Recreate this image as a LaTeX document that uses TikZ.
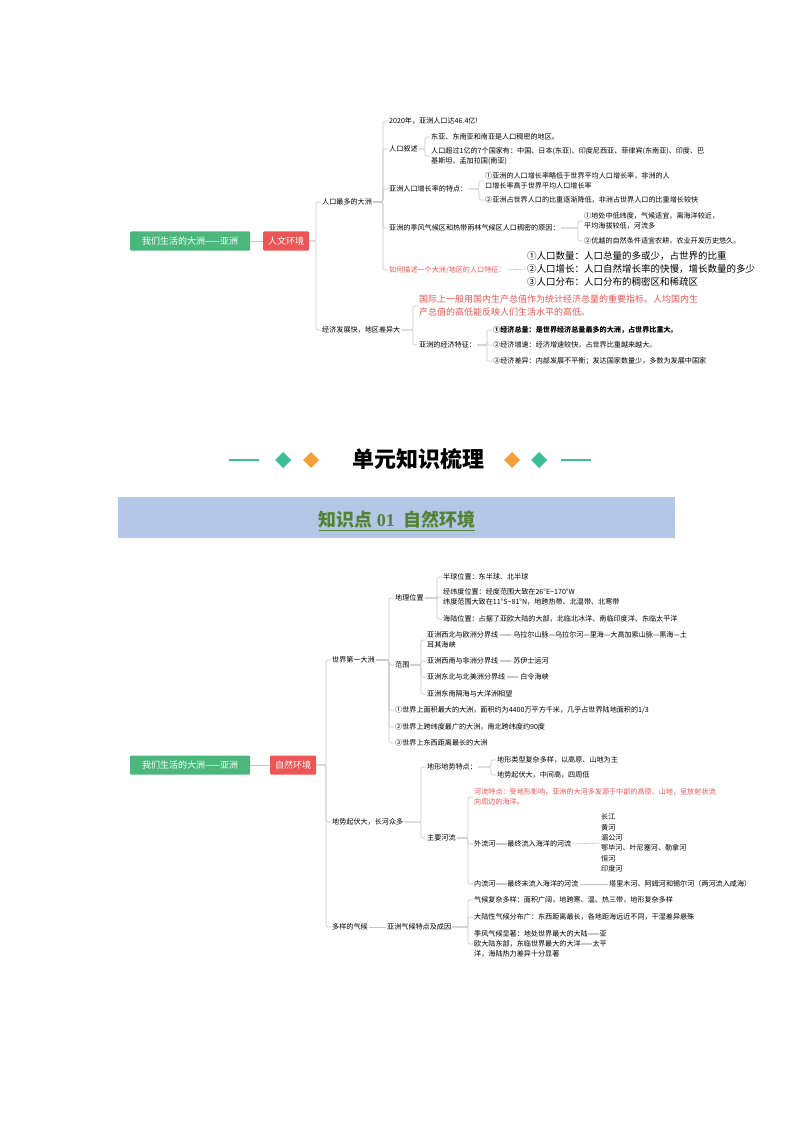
\documentclass[tikz,border=0pt]{standalone}
\usepackage{fontspec}
\setmainfont{Noto Sans CJK SC}
\newfontfamily\hd{Noto Sans CJK SC}
\newfontfamily\sr{Liberation Serif}
\definecolor{rootg}{RGB}{76,183,125}
\definecolor{redbx}{RGB}{236,85,85}
\definecolor{band}{RGB}{180,199,231}
\definecolor{bandt}{RGB}{84,130,53}
\definecolor{dg}{RGB}{62,190,150}
\definecolor{dor}{RGB}{245,160,60}
\begin{document}
\begin{tikzpicture}[x=1pt,y=-1pt,
 t/.style={anchor=west,inner sep=1pt,font=\fontsize{7.1}{10}\selectfont,align=left},
 rd/.style={t,text=redbx},
 big/.style={t,font=\fontsize{9.5}{13}\selectfont},
 root/.style={fill=rootg,text=white,font=\fontsize{9}{11}\selectfont,minimum height=19,minimum width=120,inner xsep=5,rounded corners=1,anchor=west},
 redb/.style={fill=redbx,text=white,font=\fontsize{9}{11}\selectfont,minimum height=19,minimum width=46,inner xsep=3,rounded corners=1,anchor=west},
 ln/.style={draw=gray!45,line width=0.6pt,rounded corners=2}]
\useasboundingbox (0,0) rectangle (794,1123);
\newcommand\lk[2]{\draw[ln] (#1.east) -| ([xshift=-5pt]#2.west) -- (#2.west);}
% ---------- top map
\node[root] (r1) at (130,241) {我们生活的大洲——亚洲};
\node[redb] (h1) at (263,241) {人文环境};
\draw[ln] (r1.east)--(h1.west);
\node[t] (a1) at (321,202) {人口最多的大洲};
\node[t] (a2) at (321,330) {经济发展快，地区差异大};
\lk{h1}{a1}\lk{h1}{a2}
\node[t] (b1) at (388,121) {2020年，亚洲人口达46.4亿!};
\node[t] (b2) at (388,149) {人口叙述};
\node[t] (b3) at (388,189) {亚洲人口增长率的特点：};
\node[t] (b4) at (388,228) {亚洲的季风气候区和热带雨林气候区人口稠密的原因：};
\node[rd] (b5) at (388,270) {如何描述一个大洲/地区的人口特征：};
\foreach \i in {1,...,5}{\lk{a1}{b\i}}
\node[t] (c1) at (430,137) {东亚、东南亚和南亚是人口稠密的地区。};
\node[t] (c2) at (430,156) {人口超过1亿的7个国家有：中国、日本(东亚)、印度尼西亚、菲律宾(东南亚)、印度、巴\\基斯坦、孟加拉国(南亚)};
\lk{b2}{c1}\lk{b2}{c2}
\node[t] (d1) at (484,181) {①亚洲的人口增长率略低于世界平均人口增长率，非洲的人\\口增长率高于世界平均人口增长率};
\node[t] (d2) at (484,200) {②亚洲占世界人口的比重逐渐降低，非洲占世界人口的比重增长较快};
\lk{b3}{d1}\lk{b3}{d2}
\node[t] (e1) at (583,221) {①地处中低纬度，气候适宜，离海洋较近，\\平均海拔较低，河流多};
\node[t] (e2) at (583,241) {②优越的自然条件适宜农耕，农业开发历史悠久。};
\lk{b4}{e1}\lk{b4}{e2}
\node[big,anchor=west] (f1) at (526,269) {①人口数量：人口总量的多或少，占世界的比重\\②人口增长：人口自然增长率的快慢，增长数量的多少\\③人口分布：人口分布的稠密区和稀疏区};
\draw[ln] (b5.east)--(f1.west);
\node[t,font=\fontsize{9}{13}\selectfont,text=redbx] (g1) at (418,306) {国际上一般用国内生产总值作为统计经济总量的重要指标。人均国内生\\产总值的高低能反映人们生活水平的高低。};
\node[t] (g2) at (418,345) {亚洲的经济特征：};
\lk{a2}{g1}\lk{a2}{g2}
\node[t,font=\fontsize{7.1}{10}\selectfont\bfseries] (k1) at (492,330) {①经济总量：是世界经济总量最多的大洲，占世界比重大。};
\node[t] (k2) at (492,345) {②经济增速：经济增速较快，占世界比重越来越大。};
\node[t] (k3) at (492,361) {③经济差异：内部发展不平衡；发达国家数量少，多数为发展中国家};
\lk{g2}{k1}\lk{g2}{k2}\lk{g2}{k3}
% ---------- header
\draw[dg,line width=1.2pt] (229,460)--(259,460) (561,460)--(591,460);
\fill[dg] (283,452)--(291,460)--(283,468)--(275,460)--cycle;
\fill[dor] (311,452)--(319,460)--(311,468)--(303,460)--cycle;
\fill[dor] (512,452)--(520,460)--(512,468)--(504,460)--cycle;
\fill[dg] (539,452)--(547,460)--(539,468)--(531,460)--cycle;
\node[font=\hd\fontsize{22}{24}\selectfont\bfseries] (hd) at (418,459) {单元知识梳理};
\fill[band] (118,497) rectangle (675,538);
\node[font=\hd\fontsize{18}{20}\selectfont\bfseries,text=bandt] (kd) at (397,521) {\underline{知识点 {\sr 01}\ \ 自然环境}};
% ---------- bottom map
\node[root] (r2) at (130,765) {我们生活的大洲——亚洲};
\node[redb] (h2) at (270,765) {自然环境};
\draw[ln] (r2.east)--(h2.west);
\node[t] (m1) at (331,660) {世界第一大洲};
\node[t] (m2) at (331,822) {地势起伏大，长河众多};
\node[t] (m3) at (331,927) {多样的气候};
\lk{h2}{m1}\lk{h2}{m2}\lk{h2}{m3}
\node[t] (n1) at (394,598) {地理位置};
\node[t] (n2) at (394,665) {范围};
\node[t] (n3) at (394,710) {①世界上面积最大的大洲，面积约为4400万平方千米，几乎占世界陆地面积的1/3};
\node[t] (n4) at (394,727) {②世界上跨纬度最广的大洲，南北跨纬度约90度};
\node[t] (n5) at (394,743) {③世界上东西距离最长的大洲};
\foreach \i in {1,...,5}{\lk{m1}{n\i}}
\node[t] (p1) at (442,577) {半球位置：东半球、北半球};
\node[t] (p2) at (442,597) {经纬度位置：经度范围大致在26°E\textasciitilde170°W\\纬度范围大致在11°S\textasciitilde81°N，地跨热带、北温带、北寒带};
\node[t] (p3) at (442,619) {海陆位置：占据了亚欧大陆的大部，北临北冰洋、南临印度洋、东临太平洋};
\lk{n1}{p1}\lk{n1}{p2}\lk{n1}{p3}
\node[t] (q1) at (426,640) {亚洲西北与欧洲分界线 —— 乌拉尔山脉—乌拉尔河—里海—大高加索山脉—黑海—土\\耳其海峡};
\node[t] (q2) at (426,661) {亚洲西南与非洲分界线 —— 苏伊士运河};
\node[t] (q3) at (426,677) {亚洲东北与北美洲分界线 —— 白令海峡};
\node[t] (q4) at (426,694) {亚洲东南隔海与大洋洲相望};
\foreach \i in {1,...,4}{\lk{n2}{q\i}}
\node[t] (s1) at (426,767) {地形地势特点：};
\node[t] (s2) at (426,838) {主要河流};
\lk{m2}{s1}\lk{m2}{s2}
\node[t] (u1) at (496,760) {地形类型复杂多样，以高原、山地为主};
\node[t] (u2) at (496,775) {地势起伏大，中间高，四周低};
\lk{s1}{u1}\lk{s1}{u2}
\node[rd] (v1) at (473,797) {河流特点：受地形影响，亚洲的大河多发源于中部的高原、山地，呈放射状流\\向周边的海洋。};
\node[t] (v2) at (473,844) {外流河——最终流入海洋的河流};
\node[t] (v3) at (473,884) {内流河——最终未流入海洋的河流};
\lk{s2}{v1}\lk{s2}{v2}\lk{s2}{v3}
\node[t,font=\fontsize{7.1}{10.4}\selectfont] (w1) at (600,843) {长江\\黄河\\湄公河\\鄂毕河、叶尼塞河、勒拿河\\恒河\\印度河};
\draw[ln] (v2.east)--(w1.west);
\node[t] (w2) at (608,884) {塔里木河、阿姆河和锡尔河（两河流入咸海）};
\draw[ln] (v3.east)--(w2.west);
\node[t] (x1) at (386,927) {亚洲气候特点及成因};
\draw[ln] (m3.east)--(x1.west);
\node[t] (y1) at (473,900) {气候复杂多样：面积广阔，地跨寒、温、热三带，地形复杂多样};
\node[t] (y2) at (473,917) {大陆性气候分布广：东西距离最长，各地距海远近不同，干湿差异悬殊};
\node[t] (y3) at (473,944) {季风气候显著：地处世界最大的大陆——亚\\欧大陆东部，东临世界最大的大洋——太平\\洋，海陆热力差异十分显著};
\lk{x1}{y1}\lk{x1}{y2}\lk{x1}{y3}
\end{tikzpicture}
\end{document}
